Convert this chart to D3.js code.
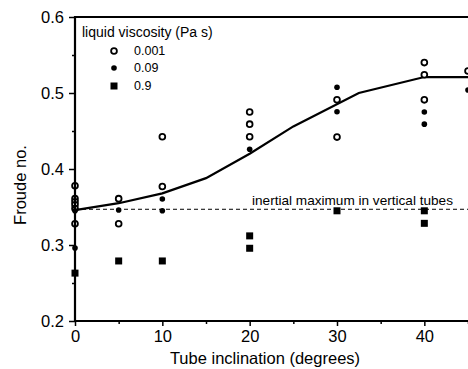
<!DOCTYPE html>
<html><head><meta charset="utf-8">
<script src="https://cdn.jsdelivr.net/npm/d3@7"></script>
<style>
body{margin:0;background:#fff;}
svg{display:block;font-family:"Liberation Sans",Arial,sans-serif;}
</style></head>
<body><svg id="c" width="468" height="369"></svg>
<script>
// Data
const seriesNames = ["0.001","0.09","0.9"];
const water = [[0,0.378],[0,0.361],[0,0.357],[0,0.353],[0,0.348],[0,0.328],
  [5,0.361],[5,0.328],[10,0.4425],[10,0.377],
  [20,0.475],[20,0.459],[20,0.4425],
  [30,0.491],[30,0.442],[40,0.540],[40,0.524],[40,0.491],[45,0.529]];
const medium = [[0,0.296],[0,0.345],[5,0.346],[10,0.3605],[10,0.345],[20,0.426],
  [30,0.5075],[30,0.4754],[40,0.475],[40,0.459],[45,0.504]];
const viscous = [[0,0.263],[5,0.279],[10,0.279],[20,0.312],[20,0.2957],
  [30,0.345],[40,0.345],[40,0.3285]];
const curve = [[0,0.346],[5,0.355],[10,0.368],[15,0.388],[20,0.420],[25,0.456],[32.5,0.500],[40,0.521],[45,0.521]];
const inertialMax = 0.347;
const xTicks = [0,10,20,30,40];
const xMinor = [5,15,25,35,45];
const yTicks = [0.2,0.3,0.4,0.5,0.6];
const yMinor = [0.25,0.35,0.45,0.55];

const svg = d3.select("#c");
const x = d3.scaleLinear().domain([0,45]).range([75,468]);
const y = d3.scaleLinear().domain([0.2,0.6]).range([321,17]);

// dashed reference line
svg.append("line").attr("x1",x(0)).attr("x2",x(45)).attr("y1",y(inertialMax)).attr("y2",y(inertialMax))
  .attr("stroke","#000").attr("stroke-width",1).attr("stroke-dasharray","4,3");
svg.append("text").attr("x",252).attr("y",y(inertialMax)-4).attr("font-size",13.6)
  .text("inertial maximum in vertical tubes");

// curve
svg.append("path").datum(curve)
  .attr("d",d3.line().x(d=>x(d[0])).y(d=>y(d[1])))
  .attr("fill","none").attr("stroke","#000").attr("stroke-width",2.2);

// points
svg.append("g").selectAll("circle").data(water).join("circle")
  .attr("cx",d=>x(d[0])).attr("cy",d=>y(d[1])).attr("r",2.9)
  .attr("fill","#fff").attr("stroke","#000").attr("stroke-width",1.8);
svg.append("g").selectAll("circle").data(medium).join("circle")
  .attr("cx",d=>x(d[0])).attr("cy",d=>y(d[1])).attr("r",2.8).attr("fill","#000");
svg.append("g").selectAll("rect").data(viscous).join("rect")
  .attr("x",d=>x(d[0])-3.5).attr("y",d=>y(d[1])-3.5).attr("width",7).attr("height",7).attr("fill","#000");

// axes
function styleAxis(g){
  g.select(".domain").remove();
  g.selectAll(".tick line").attr("stroke","#000").attr("stroke-width",1.5);
  g.selectAll(".tick text").attr("fill","#000").attr("font-size",16.5).attr("font-family","Liberation Sans, Arial, sans-serif");
}
svg.append("g").attr("transform","translate(0,321)")
  .call(d3.axisBottom(x).tickValues(xTicks).tickFormat(d3.format("d")).tickSize(5).tickPadding(4)).call(styleAxis);
svg.append("g").attr("transform","translate(0,321)")
  .call(d3.axisBottom(x).tickValues(xMinor).tickFormat("").tickSize(3)).call(styleAxis);
svg.append("g").attr("transform","translate(75,0)")
  .call(d3.axisLeft(y).tickValues(yTicks).tickFormat(d3.format(".1f")).tickSize(6).tickPadding(5)).call(styleAxis);
svg.append("g").attr("transform","translate(75,0)")
  .call(d3.axisLeft(y).tickValues(yMinor).tickFormat("").tickSize(3)).call(styleAxis);

// frame lines
svg.append("line").attr("x1",75).attr("x2",75).attr("y1",y(0.6)-1).attr("y2",y(0.2)+1).attr("stroke","#000").attr("stroke-width",2.2);
svg.append("line").attr("x1",74).attr("x2",468).attr("y1",y(0.2)).attr("y2",y(0.2)).attr("stroke","#000").attr("stroke-width",2.2);
svg.append("line").attr("x1",74).attr("x2",468).attr("y1",y(0.6)).attr("y2",y(0.6)).attr("stroke","#000").attr("stroke-width",2.2);

// axis titles
svg.append("text").attr("x",265).attr("y",364).attr("text-anchor","middle").attr("font-size",16.5)
  .text("Tube inclination (degrees)");
svg.append("text").attr("transform","translate(26,185) rotate(-90)").attr("text-anchor","middle").attr("font-size",16.5)
  .text("Froude no.");

// legend
const lg = svg.append("g");
lg.append("text").attr("x",82).attr("y",37).attr("font-size",14).text("liquid viscosity (Pa s)");
const rows = [51,68,86];
lg.append("circle").attr("cx",114).attr("cy",rows[0]).attr("r",2.9).attr("fill","#fff").attr("stroke","#000").attr("stroke-width",1.8);
lg.append("circle").attr("cx",114).attr("cy",rows[1]).attr("r",2.8).attr("fill","#000");
lg.append("rect").attr("x",110.5).attr("y",rows[2]-3.5).attr("width",7).attr("height",7).attr("fill","#000");
lg.selectAll("text.s").data(seriesNames).join("text").attr("class","s")
  .attr("x",134).attr("y",(d,i)=>rows[i]+4).attr("font-size",12.5).text(d=>d);
</script></body></html>
